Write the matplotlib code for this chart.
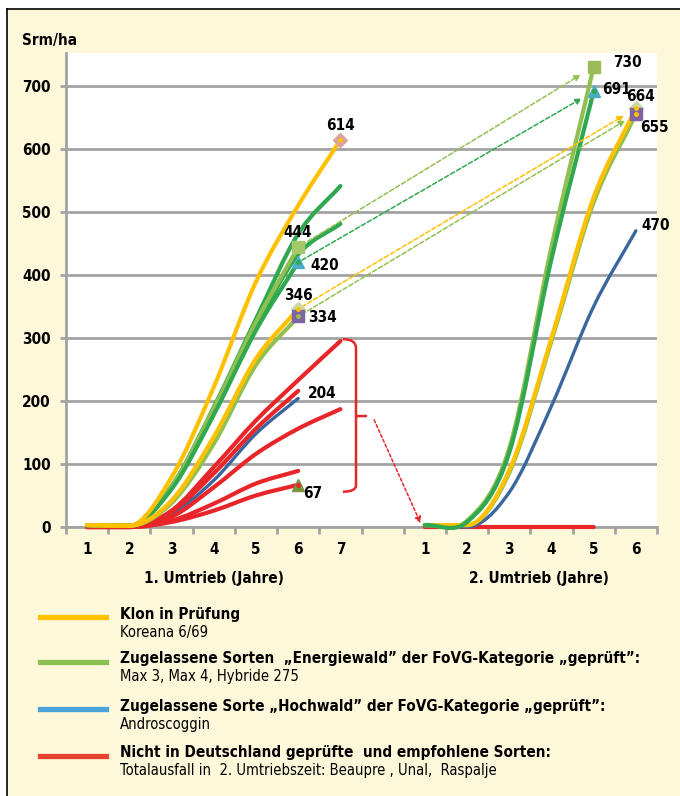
import numpy as np
import matplotlib
matplotlib.use('Agg')
import matplotlib.pyplot as plt
from matplotlib import font_manager as fm
from matplotlib.path import Path
from matplotlib.patches import PathPatch, Rectangle
from matplotlib.lines import Line2D
import matplotlib.transforms as mtransforms

# --- Daten (Srm/ha) ---
# 1. Umtrieb: Jahre 1..7 -> Index 0..6 ; 2. Umtrieb: Jahre 1..6 -> Index 8..13
tick_labels = ['1', '2', '3', '4', '5', '6', '7', '', '1', '2', '3', '4', '5', '6']
y_ticks = [0, 100, 200, 300, 400, 500, 600, 700]

# Klon in Prüfung (gelb)
klon_a_r1 = [3, 2, 79, 222, 389, 510, 614]
klon_b_r1 = [3, 2, 42, 143, 267, 346]
klon_r2 = [3, 3, 90, 300, 523, 664]

# Energiewald (grün)
ew_1_r1 = [3, 2, 65, 190, 330, 465, 541]
ew_2_r1 = [3, 2, 62, 182, 318, 432, 481]
max3_r1 = [3, 2, 64, 188, 325, 444]
max4_r1 = [3, 2, 60, 178, 312, 420]
hyb_r1 = [3, 2, 38, 132, 257, 334]
max3_r2 = [3, 10, 125, 445, 730]
max4_r2 = [3, 8, 118, 425, 691]
hyb_r2 = [3, 3, 86, 295, 515, 655]

# Hochwald (blau)
hoch_r1 = [2, 0, 21, 74, 148, 204]
hoch_r2 = [2, 0, 55, 192, 350, 470]

# nicht geprüfte Sorten (rot)
red_r1 = [
    [0, 0, 26, 95, 169, 233, 295],
    [0, 0, 24, 85, 156, 216],
    [0, 0, 16, 63, 116, 156, 187],
    [0, 0, 10, 37, 69, 89],
    [0, 0, 8, 26, 50, 67],
]
red_r2 = [0, 0, 0, 0, 0]

YELLOW = '#FFC000'
DGREEN = '#2FA84F'
LGREEN = '#92C050'
BLUE = '#3A66A0'
RED = '#E8262A'
CREAM = '#FEF8DA'
GRID = '#A3A3A3'

# schmale Schrift wählen, falls vorhanden
_fonts = fm.fontManager.ttflist
if any(f.name == 'Liberation Sans Narrow' for f in _fonts):
    FAM, STRETCH, K = 'Liberation Sans Narrow', 'normal', 1.15
elif any(f.name == 'DejaVu Sans' and str(f.stretch) in ('condensed', 'semi-condensed')
         for f in _fonts):
    FAM, STRETCH, K = 'DejaVu Sans', 'condensed', 1.0
else:
    FAM, STRETCH, K = 'Lato', 'normal', 1.05

BOLD = dict(family=[FAM, 'DejaVu Sans'], fontweight='bold', fontstretch=STRETCH)
NORMAL = dict(family=[FAM, 'DejaVu Sans'], fontstretch=STRETCH)


def smooth_path(xs, ys):
    """Geglättete Linie (Catmull-Rom als Bezier), ohne Überschwingen an Extremstellen."""
    pts = np.column_stack([xs, ys]).astype(float)
    n = len(pts)
    tang = np.zeros_like(pts)
    for i in range(n):
        a = pts[max(i - 1, 0)]
        b = pts[min(i + 1, n - 1)]
        tang[i] = (b - a) / (2 if 0 < i < n - 1 else 1)
        if 0 < i < n - 1:
            d1 = pts[i, 1] - pts[i - 1, 1]
            d2 = pts[i + 1, 1] - pts[i, 1]
            if d1 * d2 <= 0:
                tang[i, 1] = 0
    verts = [pts[0]]
    codes = [Path.MOVETO]
    for i in range(n - 1):
        verts += [pts[i] + tang[i] / 3, pts[i + 1] - tang[i + 1] / 3, pts[i + 1]]
        codes += [Path.CURVE4] * 3
    return Path(verts, codes)


def draw(ax, values, start, color, lw=3.0, z=3):
    xs = np.arange(len(values)) + start
    ax.add_patch(PathPatch(smooth_path(xs, values), facecolor='none', clip_on=False,
                           edgecolor=color, lw=lw, capstyle='round', zorder=z))
    return xs[-1], values[-1]


fig = plt.figure(figsize=(6.8, 7.96), dpi=100)
fig.patch.set_facecolor('white')
fig.add_artist(Rectangle((7 / 680, 0), 1, 1 - 9 / 796, transform=fig.transFigure,
                         facecolor=CREAM, edgecolor='none', zorder=-10))
fig.add_artist(Line2D([7 / 680, 7 / 680], [0, 1 - 9 / 796], color='black', lw=1.2))
fig.add_artist(Line2D([7 / 680, 1], [1 - 9 / 796, 1 - 9 / 796], color='black', lw=1.2))

ax = fig.add_axes([66 / 680, 269 / 796, (657 - 66) / 680, (527 - 53) / 796])
ax.set_facecolor('white')
ax.set_xlim(-0.5, 13.5)
ax.set_ylim(0, 752)

for s in ['top', 'right']:
    ax.spines[s].set_visible(False)
for s in ['left', 'bottom']:
    ax.spines[s].set_color(GRID)
    ax.spines[s].set_linewidth(2)

ax.set_yticks(y_ticks)
ax.set_yticklabels([str(v) for v in y_ticks], fontsize=11 * K, **BOLD)
ax.tick_params(axis='y', length=4, width=2, color=GRID, pad=7)
ax.yaxis.grid(True, color=GRID, lw=2)
ax.set_axisbelow(True)

ax.set_xticks(range(len(tick_labels)))
ax.set_xticklabels(tick_labels, fontsize=11 * K, **BOLD)
ax.set_xticks(np.arange(-0.5, 14, 1), minor=True)
ax.tick_params(axis='x', which='major', length=0, pad=11)
ax.tick_params(axis='x', which='minor', length=5, width=2, color=GRID)

blend = mtransforms.blended_transform_factory(ax.transData, ax.transAxes)
ax.text(3, -0.108, '1. Umtrieb (Jahre)', transform=blend, ha='center', va='center',
        fontsize=11 * K, **BOLD)
ax.text(10.7, -0.108, '2. Umtrieb (Jahre)', transform=blend, ha='center', va='center',
        fontsize=11 * K, **BOLD)
fig.text(22 / 680, 1 - 41 / 796, 'Srm/ha', ha='left', va='center', fontsize=11 * K, **BOLD)

# --- Kurven 1. Umtrieb ---
p_hoch1 = draw(ax, hoch_r1, 0, BLUE, lw=2.4, z=2.6)
for vals in red_r1:
    draw(ax, vals, 0, RED, lw=3.0, z=3)
p_r67 = (len(red_r1[-1]) - 1, red_r1[-1][-1])
draw(ax, ew_1_r1, 0, DGREEN, z=4)
draw(ax, ew_2_r1, 0, DGREEN, z=4)
p_max3_1 = draw(ax, max3_r1, 0, LGREEN, z=4)
p_max4_1 = draw(ax, max4_r1, 0, DGREEN, z=4)
p_hyb_1 = draw(ax, hyb_r1, 0, LGREEN, z=4)
p_klon_a = draw(ax, klon_a_r1, 0, YELLOW, z=5)
p_klon_b = draw(ax, klon_b_r1, 0, YELLOW, z=5)

# --- Kurven 2. Umtrieb ---
draw(ax, red_r2, 8, RED, lw=3.0, z=2.6)
p_hoch2 = draw(ax, hoch_r2, 8, BLUE, lw=2.4, z=3)
p_hyb_2 = draw(ax, hyb_r2, 8, LGREEN, z=4)
p_klon_2 = draw(ax, klon_r2, 8, YELLOW, z=5)
p_max3_2 = draw(ax, max3_r2, 8, LGREEN, z=4)
p_max4_2 = draw(ax, max4_r2, 8, DGREEN, z=5)


def marker(p, m, fc, ms=8, dot=None):
    ax.plot([p[0]], [p[1]], marker=m, ms=ms, mfc=fc, mec=fc, ls='none', zorder=8)
    if dot:
        ax.plot([p[0]], [p[1]], marker='o', ms=2.5, mfc=dot, mec=dot, ls='none', zorder=9)


marker(p_klon_a, 'D', '#D9A3A0', ms=7, dot=YELLOW)
marker(p_max3_1, 's', '#A6C86A')
marker(p_max4_1, '^', '#4BACC6', dot=DGREEN)
marker(p_klon_b, 'D', '#C8D9A2', ms=7, dot=YELLOW)
marker(p_hyb_1, 's', '#8064A2', dot=LGREEN)
marker(p_r67, '^', '#77933C', dot=RED)
marker(p_max3_2, 's', '#9BBB59', ms=9)
marker(p_max4_2, '^', '#4BACC6', ms=9, dot=DGREEN)
marker(p_klon_2, 'D', '#C8D9A2', ms=7, dot=YELLOW)
marker(p_hyb_2, 's', '#8064A2', dot=YELLOW)

# --- Werte-Beschriftungen ---
labels = [
    (p_klon_a, (0, 14), 'center'),
    (p_max3_1, (0, 15), 'center'),
    (p_max4_1, (12, -3), 'left'),
    (p_klon_b, (0, 13), 'center'),
    (p_hyb_1, (10, -1), 'left'),
    (p_hoch1, (10, 5), 'left'),
    (p_r67, (5, -9), 'left'),
    (p_max3_2, (19, 4), 'left'),
    (p_max4_2, (8, 2), 'left'),
    (p_klon_2, (5, 12), 'center'),
    (p_hyb_2, (4, -13), 'left'),
    (p_hoch2, (6, 5), 'left'),
]
for p, off, ha in labels:
    ax.annotate(str(p[1]), xy=p, xytext=off, textcoords='offset pixels',
                ha=ha, va='center', fontsize=11 * K, zorder=10, **BOLD)

# --- gestrichelte Pfeile 1. -> 2. Umtrieb ---
arrows = [
    (p_max3_1, p_max3_2, LGREEN, 11),
    (p_max4_1, p_max4_2, DGREEN, 10),
    (p_klon_b, p_klon_2, YELLOW, 10),
    (p_hyb_1, p_hyb_2, LGREEN, 9),
]
for a, b, c, sh in arrows:
    ax.annotate('', xy=b, xytext=a,
                arrowprops=dict(arrowstyle='-|>', color=c, lw=1.1, ls=(0, (3, 1.5)),
                                shrinkA=3, shrinkB=sh, mutation_scale=9), zorder=6)

# --- Klammer und roter Pfeil ---
brace = Path([(6.06, 298), (6.37, 298), (6.37, 284), (6.37, 66), (6.37, 56), (6.06, 56),
              (6.37, 176), (6.63, 176)],
             [Path.MOVETO, Path.CURVE3, Path.CURVE3, Path.LINETO, Path.CURVE3, Path.CURVE3,
              Path.MOVETO, Path.LINETO])
ax.add_patch(PathPatch(brace, facecolor='none', edgecolor=RED, lw=1.8, zorder=6,
                       clip_on=False))
ax.annotate('', xy=(7.9, 6), xytext=(6.8, 170),
            arrowprops=dict(arrowstyle='-|>', color=RED, lw=1.1, ls=(0, (2, 1.5)),
                            shrinkA=0, shrinkB=0, mutation_scale=9), zorder=6)

# --- Legende ---
legend_items = [
    (YELLOW, 'Klon in Prüfung', 'Koreana 6/69', 617),
    ('#8CC152', 'Zugelassene Sorten  \u201eEnergiewald\u201d der FoVG-Kategorie \u201egeprüft\u201d:',
     'Max 3, Max 4, Hybride 275', 662),
    ('#4BA3D9', 'Zugelassene Sorte \u201eHochwald\u201d der FoVG-Kategorie \u201egeprüft\u201d:',
     'Androscoggin', 709),
    ('#E4432F', 'Nicht in Deutschland geprüfte  und empfohlene Sorten:',
     'Totalausfall in  2. Umtriebszeit: Beaupre , Unal,  Raspalje', 756),
]
for col, title, sub, ypix in legend_items:
    yf = 1 - ypix / 796
    fig.add_artist(Line2D([40 / 680, 106 / 680], [yf, yf], color=col, lw=3.8))
    fig.text(120 / 680, 1 - (ypix - 3) / 796, title, ha='left', va='center',
             fontsize=11 * K, **BOLD)
    fig.text(120 / 680, 1 - (ypix + 15) / 796, sub, ha='left', va='center',
             fontsize=10.6 * K, **NORMAL)

fig.savefig('out.png', dpi=100, facecolor=fig.get_facecolor())
